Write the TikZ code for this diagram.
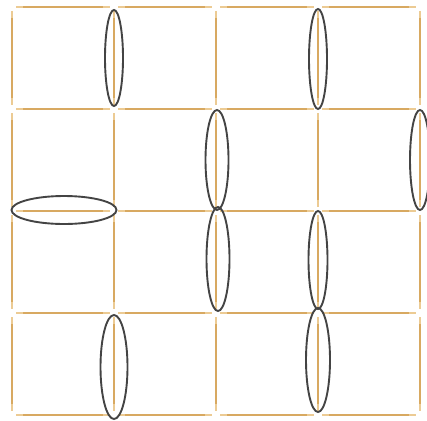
\documentclass[tikz,border=0pt]{standalone}
\definecolor{stick}{HTML}{D8A961}
\definecolor{sticktip}{HTML}{ECCB94}
\definecolor{ring}{HTML}{444444}
\tikzset{
  stickthin/.style={draw=sticktip, line width=1.1pt, shorten <=4pt, shorten >=4pt},
  stickthick/.style={draw=stick, line width=2.3pt, shorten <=11pt, shorten >=11pt},
  ringline/.style={draw=ring, line width=1.9pt}
}
\begin{document}
\begin{tikzpicture}[x=1pt,y=-1pt]
\useasboundingbox (0,0) rectangle (427,420);
\foreach \i in {0,...,4}{
  \foreach \j in {0,...,4}{
    \coordinate (g-\i-\j) at ({12+102*\i},{7+102*\j});
  }
}
% horizontal sticks
\foreach \j in {0,...,4}{
  \foreach \i [evaluate=\i as \k using int(\i+1)] in {0,...,3}{
    \draw[stickthin] (g-\i-\j) -- (g-\k-\j);
    \draw[stickthick] (g-\i-\j) -- (g-\k-\j);
  }
}
% vertical sticks
\foreach \i in {0,...,4}{
  \foreach \j [evaluate=\j as \k using int(\j+1)] in {0,...,3}{
    \draw[stickthin] (g-\i-\j) -- (g-\i-\k);
    \draw[stickthick] (g-\i-\j) -- (g-\i-\k);
  }
}
% rings
\draw[ringline] (114,58) ellipse [x radius=9, y radius=48];
\draw[ringline] (318,59) ellipse [x radius=9, y radius=50];
\draw[ringline] (217,160) ellipse [x radius=11.5, y radius=50];
\draw[ringline] (420,160) ellipse [x radius=10, y radius=50];
\draw[ringline] (64,210) ellipse [x radius=52.5, y radius=14];
\draw[ringline] (218,259) ellipse [x radius=11.5, y radius=52];
\draw[ringline] (318,260) ellipse [x radius=9.5, y radius=49];
\draw[ringline] (114,367) ellipse [x radius=13.5, y radius=52];
\draw[ringline] (318,360) ellipse [x radius=12, y radius=52];
\end{tikzpicture}
\end{document}
